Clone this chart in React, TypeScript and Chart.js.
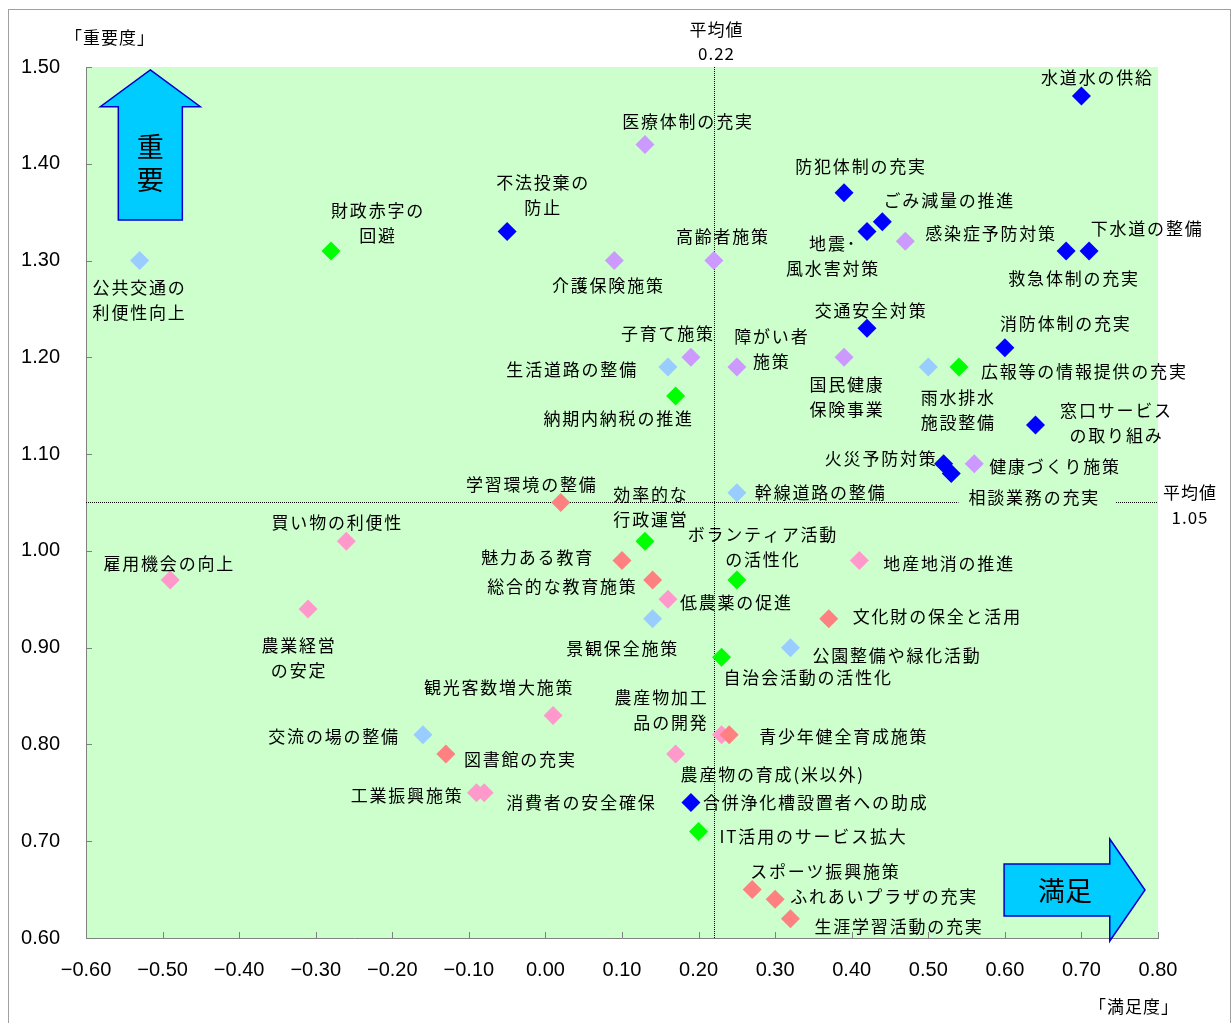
import React, { useEffect, useRef } from 'react';
import { Chart, registerables } from 'chart.js';

Chart.register(...registerables);

// ---------------- data ----------------
const X_TICK_MIN = -0.6;
const X_TICK_MAX = 0.8;
const Y_TICK_MIN = 0.6;
const Y_TICK_MAX = 1.5;
const TICK_STEP = 0.1;

const AVG_X = 0.22; // 満足度 平均値
const AVG_Y = 1.05; // 重要度 平均値

const BLUE_NAMES = ['水道水の供給', '防犯体制の充実', 'ごみ減量の推進', '地震･\n風水害対策', '救急体制の充実', '下水道の整備', '不法投棄の\n防止', '交通安全対策', '消防体制の充実', '窓口サービス\nの取り組み', '火災予防対策', '相談業務の充実', '合併浄化槽設置者への助成'];
const BLUE_X = [0.70, 0.39, 0.44, 0.42, 0.68, 0.71, -0.05, 0.42, 0.60, 0.64, 0.52, 0.53, 0.19];
const BLUE_Y = [1.47, 1.37, 1.34, 1.33, 1.31, 1.31, 1.33, 1.23, 1.21, 1.13, 1.09, 1.08, 0.74];

const PURPLE_NAMES = ['医療体制の充実', '感染症予防対策', '介護保険施策', '高齢者施策', '子育て施策', '障がい者\n施策', '国民健康\n保険事業', '健康づくり施策'];
const PURPLE_X = [0.13, 0.47, 0.09, 0.22, 0.19, 0.25, 0.39, 0.56];
const PURPLE_Y = [1.42, 1.32, 1.30, 1.30, 1.20, 1.19, 1.20, 1.09];

const LIGHTBLUE_NAMES = ['公共交通の\n利便性向上', '生活道路の整備', '雨水排水\n施設整備', '幹線道路の整備', '景観保全施策', '公園整備や緑化活動', '交流の場の整備'];
const LIGHTBLUE_X = [-0.53, 0.16, 0.50, 0.25, 0.14, 0.32, -0.16];
const LIGHTBLUE_Y = [1.30, 1.19, 1.19, 1.06, 0.93, 0.90, 0.81];

const GREEN_NAMES = ['財政赤字の\n回避', '広報等の情報提供の充実', '納期内納税の推進', '効率的な\n行政運営', 'ボランティア活動\nの活性化', '自治会活動の活性化', 'IT活用のサービス拡大'];
const GREEN_X = [-0.28, 0.54, 0.17, 0.13, 0.25, 0.23, 0.20];
const GREEN_Y = [1.31, 1.19, 1.16, 1.01, 0.97, 0.89, 0.71];

const SALMON_NAMES = ['学習環境の整備', '魅力ある教育', '総合的な教育施策', '文化財の保全と活用', '図書館の充実', '青少年健全育成施策', 'スポーツ振興施策', 'ふれあいプラザの充実', '生涯学習活動の充実'];
const SALMON_X = [0.02, 0.10, 0.14, 0.37, -0.13, 0.24, 0.27, 0.30, 0.32];
const SALMON_Y = [1.05, 0.99, 0.97, 0.93, 0.79, 0.81, 0.65, 0.64, 0.62];

const PINK_NAMES = ['買い物の利便性', '雇用機会の向上', '地産地消の推進', '低農薬の促進', '農業経営\nの安定', '観光客数増大施策', '農産物加工\n品の開発', '農産物の育成(米以外)', '工業振興施策', '消費者の安全確保'];
const PINK_X = [-0.26, -0.49, 0.41, 0.16, -0.31, 0.01, 0.23, 0.17, -0.09, -0.08];
const PINK_Y = [1.01, 0.97, 0.99, 0.95, 0.94, 0.83, 0.81, 0.79, 0.75, 0.75];

// ---------------- styles / layout ----------------
const SERIES = [
  { names: BLUE_NAMES, xs: BLUE_X, ys: BLUE_Y, color: '#0000ff' },
  { names: SALMON_NAMES, xs: SALMON_X, ys: SALMON_Y, color: '#ff8080' },
  { names: PURPLE_NAMES, xs: PURPLE_X, ys: PURPLE_Y, color: '#cc99ff' },
  { names: LIGHTBLUE_NAMES, xs: LIGHTBLUE_X, ys: LIGHTBLUE_Y, color: '#99ccff' },
  { names: GREEN_NAMES, xs: GREEN_X, ys: GREEN_Y, color: '#00ff00' },
  { names: PINK_NAMES, xs: PINK_X, ys: PINK_Y, color: '#ff99cc' },
];

// label placement relative to the point: [align, dx, dy(first line), background]
const LABEL_LAYOUT: Record<string, [string, number, number, boolean?]> = {
  '水道水の供給': ['c', 16, -18],
  '防犯体制の充実': ['c', 17, -26],
  'ごみ減量の推進': ['c', 67, -21],
  '地震･\n風水害対策': ['c', -34, 12],
  '救急体制の充実': ['c', 8, 28],
  '下水道の整備': ['c', 58, -22],
  '不法投棄の\n防止': ['c', 36, -49],
  '交通安全対策': ['c', 4, -18],
  '消防体制の充実': ['c', 61, -24],
  '窓口サービス\nの取り組み': ['c', 81, -15],
  '火災予防対策': ['r', -6, -5],
  '相談業務の充実': ['c', 83, 24, true],
  '合併浄化槽設置者への助成': ['l', 12, 0],
  '医療体制の充実': ['c', 43, -23],
  '感染症予防対策': ['l', 20, -8],
  '介護保険施策': ['c', -6, 25],
  '高齢者施策': ['c', 9, -24],
  '子育て施策': ['c', -23, -24],
  '障がい者\n施策': ['c', 35, -30],
  '国民健康\n保険事業': ['c', 3, 27],
  '健康づくり施策': ['l', 15, 3],
  '公共交通の\n利便性向上': ['c', 0, 27],
  '生活道路の整備': ['r', -30, 3],
  '雨水排水\n施設整備': ['c', 30, 31],
  '幹線道路の整備': ['l', 18, 0],
  '景観保全施策': ['c', -30, 30],
  '公園整備や緑化活動': ['l', 22, 8],
  '交流の場の整備': ['r', -23, 2],
  '財政赤字の\n回避': ['c', 47, -40],
  '広報等の情報提供の充実': ['l', 22, 5],
  '納期内納税の推進': ['c', -57, 23],
  '効率的な\n行政運営': ['c', 6, -47],
  'ボランティア活動\nの活性化': ['c', 26, -45],
  '自治会活動の活性化': ['l', 2, 20],
  'IT活用のサービス拡大': ['l', 21, 5],
  '学習環境の整備': ['c', -29, -18],
  '魅力ある教育': ['r', -28, -3],
  '総合的な教育施策': ['r', -15, 7],
  '文化財の保全と活用': ['l', 24, -2],
  '図書館の充実': ['l', 18, 5],
  '青少年健全育成施策': ['l', 30, 2],
  'スポーツ振興施策': ['l', -2, -18],
  'ふれあいプラザの充実': ['l', 15, -3],
  '生涯学習活動の充実': ['l', 24, 8],
  '買い物の利便性': ['c', -9, -19],
  '雇用機会の向上': ['c', -1, -16],
  '地産地消の推進': ['l', 24, 3],
  '低農薬の促進': ['l', 12, 3],
  '農業経営\nの安定': ['c', -9, 37],
  '観光客数増大施策': ['c', -54, -28],
  '農産物加工\n品の開発': ['r', -13, -37],
  '農産物の育成(米以外)': ['l', 5, 20],
  '工業振興施策': ['r', -13, 3],
  '消費者の安全確保': ['l', 22, 10],
};

const UP_ARROW = { x: -0.516, tip: 1.497, headBase: 1.459, bottom: 1.342, headHalf: 0.0653, shaftHalf: 0.0418, text: ['重', '要'] };
const RIGHT_ARROW = { y: 0.6496, left: 0.599, headBase: 0.737, tip: 0.783, shaftHalf: 0.0269, headHalf: 0.0527, text: '満足' };

const JP = '"Noto Sans CJK JP", "Noto Sans", sans-serif';
const LABEL_FONT = `17px ${JP}`;
const LINE_GAP = 25;
const CANVAS_W = 1221;
const CANVAS_H = 1020;

function fmtX(v: number) {
  if (Math.abs(v) < 1e-9) return '0.00';
  const s = Math.abs(v).toFixed(2);
  return v < 0 ? '\u2212' + s : s;
}

const decorPlugin = {
  id: 'decor',
  beforeDraw(chart: any) {
    const { ctx, chartArea: a } = chart;
    ctx.save();
    ctx.fillStyle = '#ffffff';
    ctx.fillRect(0, 0, chart.width, chart.height);
    ctx.fillStyle = '#ccffcc';
    ctx.fillRect(a.left, a.top, a.right - a.left, a.bottom - a.top);
    ctx.restore();
  },
  beforeDatasetsDraw(chart: any) {
    const { ctx, chartArea: a } = chart;
    const xs = chart.scales.x;
    const ys = chart.scales.y;
    ctx.save();
    // inside tick marks
    ctx.strokeStyle = '#808080';
    ctx.lineWidth = 1;
    ctx.beginPath();
    xs.ticks.forEach((t: any) => {
      const p = Math.round(xs.getPixelForValue(t.value)) + 0.5;
      ctx.moveTo(p, a.bottom);
      ctx.lineTo(p, a.bottom - 6);
    });
    ys.ticks.forEach((t: any) => {
      const p = Math.round(ys.getPixelForValue(t.value)) + 0.5;
      ctx.moveTo(a.left, p);
      ctx.lineTo(a.left + 6, p);
    });
    ctx.stroke();

    // average lines
    const px = Math.round(xs.getPixelForValue(AVG_X)) + 0.5;
    const py = Math.round(ys.getPixelForValue(AVG_Y)) + 0.5;
    ctx.strokeStyle = '#000000';
    ctx.setLineDash([1, 1]);
    ctx.beginPath();
    ctx.moveTo(px, a.top);
    ctx.lineTo(px, a.bottom);
    ctx.moveTo(a.left, py);
    ctx.lineTo(a.right, py);
    ctx.stroke();
    ctx.setLineDash([]);

    // average labels and axis titles
    ctx.fillStyle = '#000';
    ctx.font = LABEL_FONT;
    ctx.letterSpacing = '1px';
    ctx.textAlign = 'center';
    ctx.textBaseline = 'middle';
    ctx.fillText('平均値', px + 2, a.top - 37);
    ctx.fillText(AVG_X.toFixed(2), px + 2, a.top - 13);
    ctx.fillText('平均値', a.right + 32, py - 10);
    ctx.fillText(AVG_Y.toFixed(2), a.right + 32, py + 15);
    ctx.fillText('「重要度」', a.left + 24, a.top - 29);
    ctx.fillText('「満足度」', a.right - 24, a.bottom + 69);

    // arrows
    ctx.letterSpacing = '0px';
    ctx.fillStyle = '#00ccff';
    ctx.strokeStyle = '#0000cc';
    ctx.lineWidth = 1.5;
    const ux = xs.getPixelForValue(UP_ARROW.x);
    const uHead = xs.getPixelForValue(UP_ARROW.x + UP_ARROW.headHalf) - ux;
    const uShaft = xs.getPixelForValue(UP_ARROW.x + UP_ARROW.shaftHalf) - ux;
    const uTip = ys.getPixelForValue(UP_ARROW.tip);
    const uBase = ys.getPixelForValue(UP_ARROW.headBase);
    const uBottom = ys.getPixelForValue(UP_ARROW.bottom);
    ctx.beginPath();
    ctx.moveTo(ux, uTip);
    ctx.lineTo(ux + uHead, uBase);
    ctx.lineTo(ux + uShaft, uBase);
    ctx.lineTo(ux + uShaft, uBottom);
    ctx.lineTo(ux - uShaft, uBottom);
    ctx.lineTo(ux - uShaft, uBase);
    ctx.lineTo(ux - uHead, uBase);
    ctx.closePath();
    ctx.fill();
    ctx.stroke();

    const ry = ys.getPixelForValue(RIGHT_ARROW.y);
    const rShaft = ry - ys.getPixelForValue(RIGHT_ARROW.y + RIGHT_ARROW.shaftHalf);
    const rHead = ry - ys.getPixelForValue(RIGHT_ARROW.y + RIGHT_ARROW.headHalf);
    const rLeft = xs.getPixelForValue(RIGHT_ARROW.left);
    const rBase = xs.getPixelForValue(RIGHT_ARROW.headBase);
    const rTip = xs.getPixelForValue(RIGHT_ARROW.tip);
    ctx.beginPath();
    ctx.moveTo(rTip, ry);
    ctx.lineTo(rBase, ry - rHead);
    ctx.lineTo(rBase, ry - rShaft);
    ctx.lineTo(rLeft, ry - rShaft);
    ctx.lineTo(rLeft, ry + rShaft);
    ctx.lineTo(rBase, ry + rShaft);
    ctx.lineTo(rBase, ry + rHead);
    ctx.closePath();
    ctx.fill();
    ctx.stroke();

    ctx.fillStyle = '#000';
    ctx.font = `27px ${JP}`;
    const mid = (uBase + uBottom) / 2;
    ctx.fillText(UP_ARROW.text[0], ux, mid - 17);
    ctx.fillText(UP_ARROW.text[1], ux, mid + 16);
    ctx.fillText(RIGHT_ARROW.text, (rLeft + rBase) / 2 + 8, ry + 1);
    ctx.restore();
  },
  afterDatasetsDraw(chart: any) {
    const { ctx } = chart;
    ctx.save();
    ctx.font = LABEL_FONT;
    ctx.letterSpacing = '1.8px';
    ctx.textBaseline = 'middle';
    SERIES.forEach((s, di) => {
      const meta = chart.getDatasetMeta(di);
      meta.data.forEach((pt: any, i: number) => {
        const name = s.names[i];
        const lay = LABEL_LAYOUT[name] || ['c', 0, -20];
        const [al, dx, dy, bg] = lay;
        const lines = name.split('\n');
        ctx.textAlign = al === 'l' ? 'left' : al === 'r' ? 'right' : 'center';
        const ax = pt.x + dx;
        if (bg) {
          const w = ctx.measureText(lines[0]).width;
          const left = al === 'l' ? ax : al === 'r' ? ax - w : ax - w / 2;
          ctx.fillStyle = '#ccffcc';
          ctx.fillRect(left - 10, pt.y + dy - 11, w + 26, 22);
        }
        ctx.fillStyle = '#000';
        lines.forEach((ln, k) => {
          ctx.fillText(ln, ax, pt.y + dy + k * LINE_GAP);
        });
      });
    });
    ctx.restore();
  },
};

export default function App() {
  const ref = useRef<HTMLCanvasElement>(null);
  useEffect(() => {
    if (!ref.current) return;
    const chart = new Chart(ref.current, {
      type: 'scatter',
      data: {
        datasets: SERIES.map((s) => ({
          data: s.xs.map((x, i) => ({ x, y: s.ys[i] })),
          backgroundColor: s.color,
          borderColor: s.color,
          borderWidth: 0,
          pointStyle: 'rectRot',
          pointRadius: 9.5,
          pointHoverRadius: 9.5,
        })),
      },
      options: {
        animation: false,
        responsive: false,
        devicePixelRatio: 1,
        events: [],
        layout: { padding: { top: 57, left: 0, right: 72, bottom: 32 } },
        plugins: { legend: { display: false }, tooltip: { enabled: false } },
        scales: {
          x: {
            type: 'linear',
            min: X_TICK_MIN,
            max: X_TICK_MAX,
            afterFit: (s: any) => { s.height = 60; },
            grid: { drawOnChartArea: false, drawTicks: false },
            border: { display: true, color: '#808080', width: 1 },
            ticks: {
              stepSize: TICK_STEP,
              padding: 20,
              color: '#000',
              font: { family: '"Liberation Sans", Arial, sans-serif', size: 20 },
              maxRotation: 0,
              autoSkip: false,
              callback: (v: any) => fmtX(Number(v)),
            },
          },
          y: {
            type: 'linear',
            min: Y_TICK_MIN,
            max: Y_TICK_MAX,
            afterFit: (s: any) => { s.width = 77; },
            grid: { drawOnChartArea: false, drawTicks: false },
            border: { display: true, color: '#808080', width: 1 },
            ticks: {
              stepSize: TICK_STEP,
              padding: 26,
              color: '#000',
              font: { family: '"Liberation Sans", Arial, sans-serif', size: 20 },
              autoSkip: false,
              callback: (v: any) => Number(v).toFixed(2),
            },
          },
        },
      },
      plugins: [decorPlugin],
    } as any);
    return () => chart.destroy();
  }, []);
  return (
    <div
      style={{
        position: 'fixed',
        left: 8,
        top: 9,
        width: 1223,
        height: 1022,
        border: '1px solid #a0a0a0',
        boxSizing: 'border-box',
        background: '#fff',
      }}
    >
      <canvas ref={ref} width={CANVAS_W} height={CANVAS_H} style={{ display: 'block', width: CANVAS_W, height: CANVAS_H }} />
    </div>
  );
}
